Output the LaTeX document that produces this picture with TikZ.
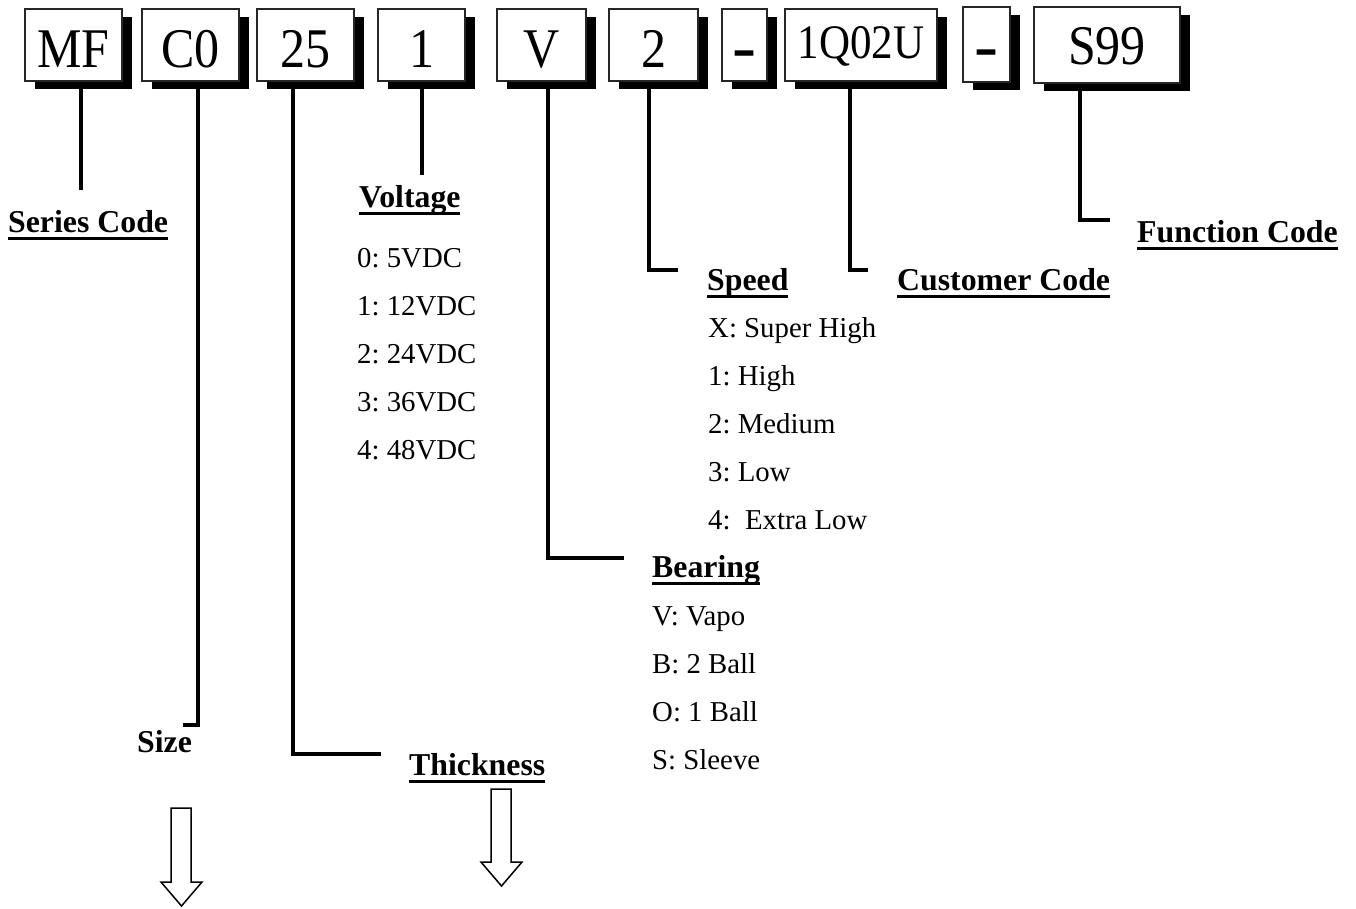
\documentclass[tikz,border=0pt]{standalone}
\usepackage{fontspec}
\setmainfont{Liberation Serif}
\usetikzlibrary{shadows,calc}
\frenchspacing
\newcommand\boxtxt[2][50]{\scalebox{1}[1.12]{\fontsize{#1}{#1}\selectfont #2}}
\newcommand\dashtxt{\fontsize{72}{72}\selectfont -}
\newsavebox\ulbox
\newcommand\ulabel[1]{\sbox\ulbox{#1}\rlap{\rule[-7.5pt]{\wd\ulbox}{2.5pt}}\usebox\ulbox}
\begin{document}
\begin{tikzpicture}[x=1pt,y=-1pt,
  codebox/.style={draw=black!85, line width=1.3pt, fill=white, inner sep=0pt,
    minimum height=72pt, text height=58pt, text depth=14pt,
    drop shadow={shadow xshift=10pt, shadow yshift=-8pt, fill=black, opacity=1}},
  conn/.style={line width=4.8pt, line cap=butt, line join=miter},
  title/.style={anchor=base west, inner sep=0pt, font=\fontsize{31.8}{32}\selectfont\bfseries},
  item/.style={anchor=base west, inner sep=0pt, font=\fontsize{28.8}{29}\selectfont},
  hollow/.style={draw=black, line width=1.5pt, fill=white, line join=miter}]
\useasboundingbox (0,0) rectangle (1356,908);
\fill[white] (0,0) rectangle (1356,908);
% code boxes
\node[codebox, minimum width=97pt] (mf) at (73.5,45) {\boxtxt{MF}};
\node[codebox, minimum width=97pt] (c0) at (190.5,45) {\boxtxt{C0}};
\node[codebox, minimum width=97pt] (n25) at (305.5,45) {\boxtxt{25}};
\node[codebox, minimum width=87pt] (n1) at (421.5,45) {\boxtxt{1}};
\node[codebox, minimum width=89pt] (v) at (541.5,45) {\boxtxt{V}};
\node[codebox, minimum width=89pt] (n2) at (653.5,45) {\boxtxt{2}};
\node[codebox, minimum width=45pt, text height=61pt, text depth=11pt] (d1) at (744.5,45) {\dashtxt};
\node[codebox, minimum width=152pt, text height=49pt, text depth=23pt] (cust) at (861,45) {\boxtxt[43]{1Q02U}};
\node[codebox, minimum width=47pt, minimum height=75pt, text height=62pt, text depth=13pt] (d2) at (986.5,44.5) {\dashtxt};
\node[codebox, minimum width=146pt, minimum height=76pt, text height=57pt, text depth=19pt] (s99) at (1107,45) {\boxtxt{S99}};
% connector coordinates
\coordinate (scEnd) at (81,190);
\coordinate (szC) at (198,725);
\coordinate (szEnd) at (183,725);
\coordinate (thC) at (293,754);
\coordinate (thEnd) at (381,754);
\coordinate (voEnd) at (422,175);
\coordinate (beC) at (548,558);
\coordinate (beEnd) at (624,558);
\coordinate (spC) at (649,270);
\coordinate (spEnd) at (678,270);
\coordinate (cuC) at (850,270);
\coordinate (cuEnd) at (868,270);
\coordinate (fuC) at (1080,220);
\coordinate (fuEnd) at (1110,220);
% connectors
\draw[conn] (mf.south -| scEnd) -- (scEnd);
\draw[conn] (c0.south -| szC) -- (szC) -- (szEnd);
\draw[conn] (n25.south -| thC) -- (thC) -- (thEnd);
\draw[conn] (n1.south -| voEnd) -- (voEnd);
\draw[conn] (v.south -| beC) -- (beC) -- (beEnd);
\draw[conn] (n2.south -| spC) -- (spC) -- (spEnd);
\draw[conn] (cust.south -| cuC) -- (cuC) -- (cuEnd);
\draw[conn] (s99.south -| fuC) -- (fuC) -- (fuEnd);
% titles
\node[title] (tSeries) at (8,232) {\ulabel{Series Code}};
\node[title] (tVolt) at (359,207) {\ulabel{Voltage}};
\node[title] (tSpeed) at (707,290) {\ulabel{Speed}};
\node[title] (tCust) at (897,290) {\ulabel{Customer Code}};
\node[title] (tFunc) at (1137,242) {\ulabel{Function Code}};
\node[title] (tBear) at (652,577) {\ulabel{Bearing}};
\node[title] (tSize) at (137,752) {Size};
\node[title] (tThick) at (409,775) {\ulabel{Thickness}};
% voltage items
\node[item] (v0) at (357,267) {0: 5VDC};
\node[item] (v1) at (357,315) {1: 12VDC};
\node[item] (v2) at (357,363) {2: 24VDC};
\node[item] (v3) at (357,411) {3: 36VDC};
\node[item] (v4) at (357,459) {4: 48VDC};
% speed items
\node[item] (s0) at (708,337) {X: Super High};
\node[item] (s1) at (708,385) {1: High};
\node[item] (s2) at (708,433) {2: Medium};
\node[item] (s3) at (708,481) {3: Low};
\node[item] (s4) at (708,529) {4:\ \ Extra Low};
% bearing items
\node[item] (b0) at (652,625) {V: Vapo};
\node[item] (b1) at (652,673) {B: 2 Ball};
\node[item] (b2) at (652,721) {O: 1 Ball};
\node[item] (b3) at (652,769) {S: Sleeve};
% hollow arrows
\draw[hollow] (171,808) -- (191,808) -- (191,882) -- (202,882) -- (181.5,906) -- (161,882) -- (171,882) -- cycle;
\draw[hollow] (491,789) -- (511,789) -- (511,862) -- (522,862) -- (501.5,886) -- (481,862) -- (491,862) -- cycle;
\end{tikzpicture}
\end{document}
